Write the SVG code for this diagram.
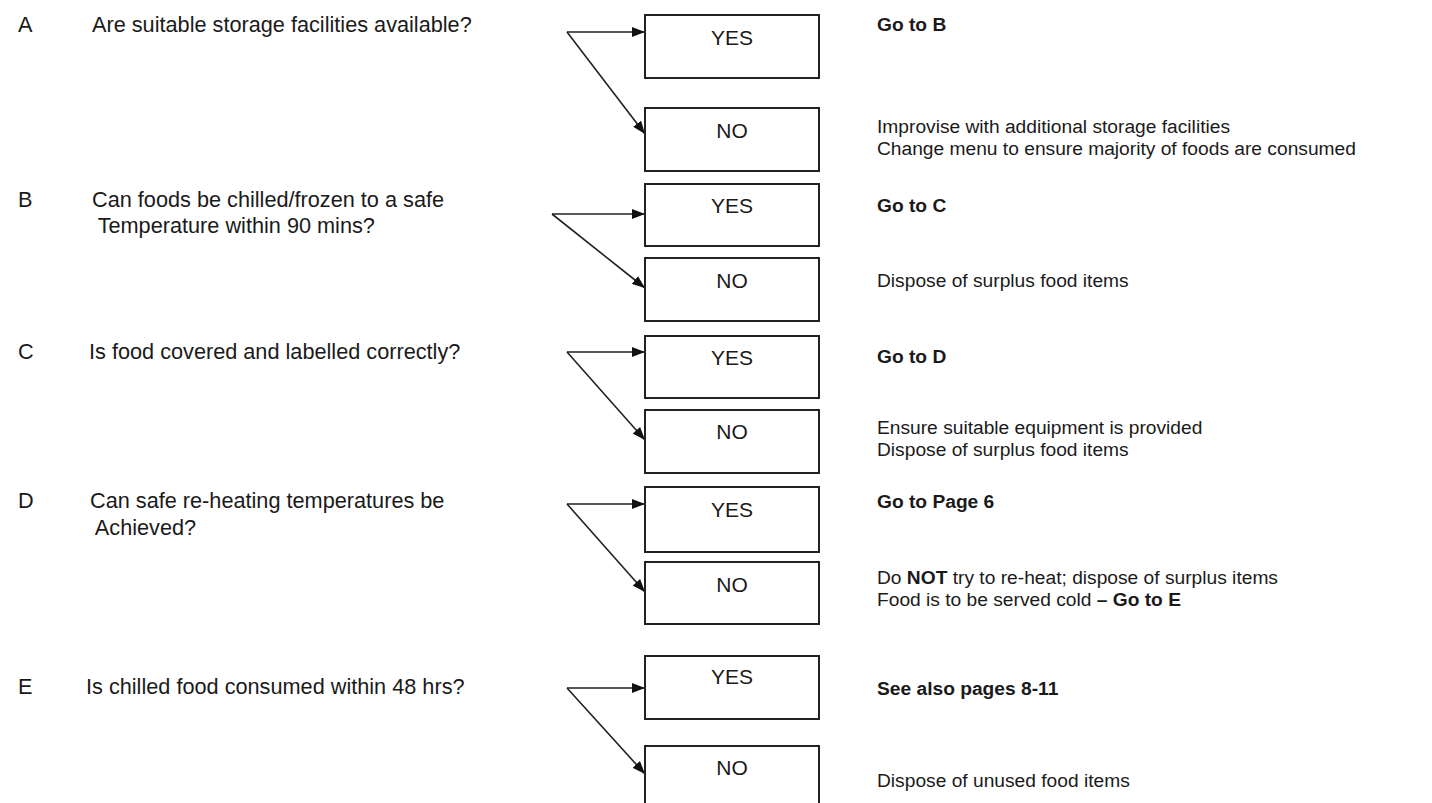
<svg xmlns="http://www.w3.org/2000/svg" width="1432" height="803" viewBox="0 0 1432 803">
<defs>
<marker id="ah" viewBox="0 0 13 10" refX="13" refY="5" markerWidth="13" markerHeight="10" markerUnits="userSpaceOnUse" orient="auto">
<path d="M0,0 L13,5 L0,10 Z" fill="#111"/>
</marker>
<style>
text{font-family:"Liberation Sans",Arial,sans-serif;fill:#1a1a1a}
.q{font-size:21.7px}
.r{font-size:19.2px}
.b{font-weight:bold}
.lbl{font-size:21px;text-anchor:middle}
.box{fill:#fff;stroke:#222;stroke-width:2}
.con{stroke:#222;stroke-width:1.6;fill:none;marker-end:url(#ah)}
</style>
</defs>
<rect width="1432" height="803" fill="#fff"/>

<g id="questions">
<g id="qA"><text class="q" x="18" y="32">A</text><text class="q" x="92" y="32">Are suitable storage facilities available?</text></g>
<g id="qB"><text class="q" x="18" y="207">B</text><text class="q" x="92" y="207">Can foods be chilled/frozen to a safe</text><text class="q" x="92" y="233" xml:space="preserve"> Temperature within 90 mins?</text></g>
<g id="qC"><text class="q" x="18" y="359">C</text><text class="q" x="89" y="359">Is food covered and labelled correctly?</text></g>
<g id="qD"><text class="q" x="18" y="508">D</text><text class="q" x="90" y="508">Can safe re-heating temperatures be</text><text class="q" x="90" y="535" xml:space="preserve"> Achieved?</text></g>
<g id="qE"><text class="q" x="18" y="694">E</text><text class="q" x="86" y="694">Is chilled food consumed within 48 hrs?</text></g>
</g>

<g id="connectors">
<line class="con" x1="567" y1="32" x2="645" y2="32"/>
<line class="con" x1="567" y1="32" x2="645" y2="134"/>
<line class="con" x1="552" y1="214" x2="645" y2="214"/>
<line class="con" x1="552" y1="214" x2="645" y2="288"/>
<line class="con" x1="567" y1="352" x2="645" y2="352"/>
<line class="con" x1="567" y1="352" x2="645" y2="440"/>
<line class="con" x1="567" y1="504" x2="645" y2="504"/>
<line class="con" x1="567" y1="504" x2="645" y2="592"/>
<line class="con" x1="567" y1="688" x2="645" y2="688"/>
<line class="con" x1="567" y1="688" x2="645" y2="774"/>
</g>

<g id="yesA"><rect class="box" x="645" y="15" width="174" height="63"/><text class="lbl" x="732" y="45">YES</text></g>
<g id="noA"><rect class="box" x="645" y="108" width="174" height="63"/><text class="lbl" x="732" y="138">NO</text></g>
<g id="yesB"><rect class="box" x="645" y="184" width="174" height="62"/><text class="lbl" x="732" y="213">YES</text></g>
<g id="noB"><rect class="box" x="645" y="258" width="174" height="63"/><text class="lbl" x="732" y="288">NO</text></g>
<g id="yesC"><rect class="box" x="645" y="336" width="174" height="62"/><text class="lbl" x="732" y="365">YES</text></g>
<g id="noC"><rect class="box" x="645" y="410" width="174" height="63"/><text class="lbl" x="732" y="439">NO</text></g>
<g id="yesD"><rect class="box" x="645" y="487" width="174" height="65"/><text class="lbl" x="732" y="517">YES</text></g>
<g id="noD"><rect class="box" x="645" y="562" width="174" height="62"/><text class="lbl" x="732" y="592">NO</text></g>
<g id="yesE"><rect class="box" x="645" y="656" width="174" height="63"/><text class="lbl" x="732" y="684">YES</text></g>
<g id="noE"><rect class="box" x="645" y="746" width="174" height="70"/><text class="lbl" x="732" y="775">NO</text></g>

<g id="outcomes">
<text class="r b" x="877" y="31">Go to B</text>
<text class="r" x="877" y="133">Improvise with additional storage facilities</text>
<text class="r" x="877" y="155">Change menu to ensure majority of foods are consumed</text>
<text class="r b" x="877" y="212">Go to C</text>
<text class="r" x="877" y="287">Dispose of surplus food items</text>
<text class="r b" x="877" y="363">Go to D</text>
<text class="r" x="877" y="434">Ensure suitable equipment is provided</text>
<text class="r" x="877" y="456">Dispose of surplus food items</text>
<text class="r b" x="877" y="508">Go to Page 6</text>
<text class="r" x="877" y="584">Do <tspan class="b">NOT</tspan> try to re-heat; dispose of surplus items</text>
<text class="r" x="877" y="606">Food is to be served cold <tspan class="b">– Go to E</tspan></text>
<text class="r b" x="877" y="695">See also pages 8-11</text>
<text class="r" x="877" y="787">Dispose of unused food items</text>
</g>
</svg>
